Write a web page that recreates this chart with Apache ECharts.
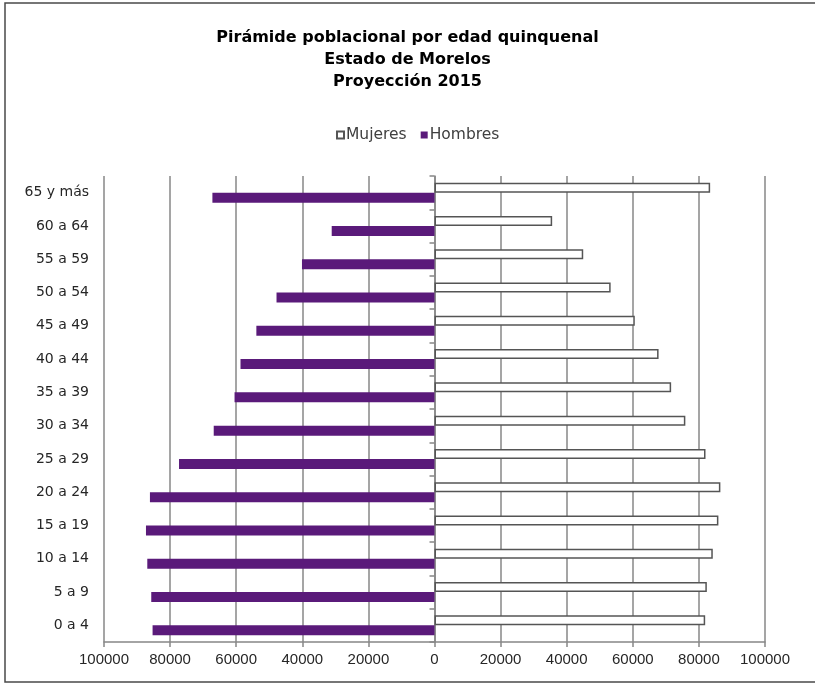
<!DOCTYPE html>
<html>
<head>
<meta charset="utf-8">
<script src="https://cdn.jsdelivr.net/npm/echarts@6/dist/echarts.min.js"></script>
<style>
html,body{margin:0;padding:0;background:#fff;}
#chart{width:815px;height:684px;}
</style>
</head>
<body>
<div id="chart"></div>
<script>
// Categories from bottom to top
var categories = ['0 a 4','5 a 9','10 a 14','15 a 19','20 a 24','25 a 29','30 a 34','35 a 39','40 a 44','45 a 49','50 a 54','55 a 59','60 a 64','65 y más'];
var mujeres = [81900, 82400, 84200, 85900, 86500, 82000, 75900, 71600, 67800, 60600, 53300, 45000, 35600, 83400];
var hombres = [85300, 85700, 86900, 87300, 86100, 77300, 66800, 60500, 58700, 53900, 47800, 40100, 31100, 67200];
var titleLines = ['Pirámide poblacional por edad quinquenal', 'Estado de Morelos', 'Proyección 2015'];
var seriesNames = ['Mujeres', 'Hombres'];

var FONT = '"Liberation Sans", Arial, sans-serif';
var WIDE = '"DejaVu Sans", sans-serif';
var gridColor = '#878787';

var chart = echarts.init(document.getElementById('chart'), null, {renderer: 'canvas'});
chart.setOption({
  animation: false,
  backgroundColor: '#ffffff',
  title: {
    text: titleLines.join('\n'),
    left: 'center',
    top: 27,
    padding: 0,
    textStyle: {fontFamily: WIDE, fontSize: 16, fontWeight: 'bold', color: '#000', lineHeight: 22}
  },
  legend: {
    data: seriesNames,
    left: 331,
    top: 122,
    icon: 'rect',
    itemWidth: 7,
    itemHeight: 7,
    itemGap: 14,
    textStyle: {fontFamily: WIDE, fontSize: 15.5, color: '#404040', padding: [0, 0, 0, -3]}
  },
  graphic: [{
    type: 'rect',
    shape: {x: 5, y: 3, width: 820, height: 679},
    style: {fill: 'none', stroke: '#4a4a4a', lineWidth: 1.5},
    silent: true,
    z: 100
  }],
  grid: {left: 104, right: 50, top: 176, bottom: 42, containLabel: false},
  xAxis: {
    type: 'value',
    min: -100000,
    max: 100000,
    interval: 20000,
    axisLine: {show: true, onZero: false, lineStyle: {color: gridColor, width: 1.5}},
    axisTick: {show: true, length: 5, lineStyle: {color: gridColor, width: 1.5}},
    splitLine: {show: true, lineStyle: {color: gridColor, width: 1.5}},
    axisLabel: {
      margin: 10,
      fontFamily: FONT, fontSize: 15, color: '#262626',
      formatter: function (v) { return String(Math.abs(v)); }
    }
  },
  yAxis: [{
    type: 'category',
    data: categories,
    position: 'left',
    axisLine: {show: false, onZero: false},
    axisTick: {show: false},
    splitLine: {show: false},
    axisLabel: {margin: 15, fontFamily: WIDE, fontSize: 14, color: '#262626'}
  }, {
    type: 'category',
    data: categories,
    position: 'right',
    axisLine: {show: true, onZero: true, lineStyle: {color: gridColor, width: 1.5}},
    axisTick: {show: true, inside: true, length: 5, lineStyle: {color: gridColor, width: 1.5}},
    splitLine: {show: false},
    axisLabel: {show: false}
  }],
  series: [{
    name: seriesNames[0],
    type: 'bar',
    yAxisIndex: 0,
    data: mujeres,
    barWidth: 10,
    barGap: '0%',
    itemStyle: {color: '#ffffff', borderColor: '#555555', borderWidth: 1.5}
  }, {
    name: seriesNames[1],
    type: 'bar',
    yAxisIndex: 0,
    data: hombres.map(function (v) { return -v; }),
    barWidth: 10,
    barGap: '0%',
    itemStyle: {color: '#5a1a7a'}
  }]
});
</script>
</body>
</html>
